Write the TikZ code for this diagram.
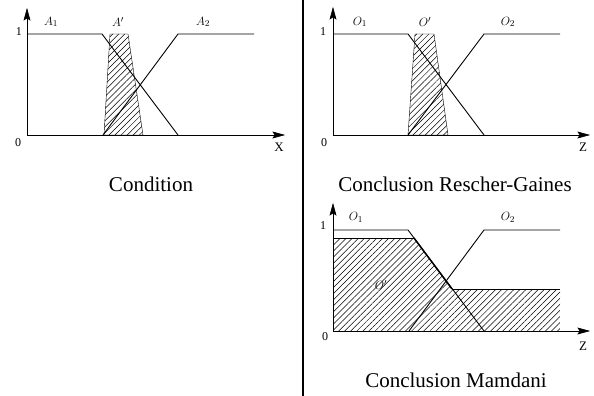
\documentclass[tikz,border=0pt]{standalone}
\usepackage{fontspec}
\setmainfont{Liberation Serif}
\usetikzlibrary{patterns.meta}
\begin{document}
\begin{tikzpicture}[x=1pt,y=-1pt,
  curve/.style={line width=0.9pt},
  axisline/.style={line width=1pt},
  tip/.style={fill=black,draw=black,line width=0.6pt,line join=miter},
  hatch/.style={pattern={Lines[angle=45,distance=4.3pt,line width=0.5pt]}},
  lbl/.style={font=\fontsize{13}{15}\selectfont, inner sep=0pt},
  dig/.style={font=\fontsize{12}{14}\selectfont, inner sep=0pt},
  captext/.style={font=\fontsize{21}{25}\selectfont, inner sep=0pt}]
\useasboundingbox (0,0) rectangle (594,396);

% ---------- Condition ----------
\coordinate (co) at (27,135);
\coordinate (cyt) at (27,9);
\coordinate (cxt) at (284,135);
\draw[axisline] (co) -- (27,17);
\draw[axisline] (co) -- (276,135);
\filldraw[tip] (cyt) -- (24,20) -- (27,18) -- (30,20) -- cycle;
\filldraw[tip] (cxt) -- (273,132) -- (275,135) -- (273,138) -- cycle;
\node[dig] (c1) at (19,32) {1};
\node[dig] (c0) at (18,143) {0};
\node[lbl] (cx) at (279,147) {X};
\draw[hatch] (104,135) -- (110,34) -- (128,34) -- (143,135) -- cycle;
\draw[curve] (27,34) -- (102,34) -- (178,135);
\draw[curve] (103,135) -- (178,34) -- (254,34);
\node[lbl] (a1) at (51,22) {$A_1$};
\node[lbl] (ap) at (118,22) {$A'$};
\node[lbl] (a2) at (203,22) {$A_2$};
\node[captext] (capc) at (151,184) {Condition};

% ---------- divider ----------
\draw[line width=2.8pt] (303,0) -- (303,396);

% ---------- Rescher-Gaines ----------
\coordinate (ro) at (333,135);
\coordinate (ryt) at (333,8);
\coordinate (rxt) at (589,135);
\draw[axisline] (ro) -- (333,16);
\draw[axisline] (ro) -- (581,135);
\filldraw[tip] (ryt) -- (330,19) -- (333,17) -- (336,19) -- cycle;
\filldraw[tip] (rxt) -- (578,132) -- (580,135) -- (578,138) -- cycle;
\node[dig] (r1) at (323,32) {1};
\node[dig] (r0) at (324,143) {0};
\node[lbl] (rz) at (583,147) {Z};
\draw[hatch] (408,135) -- (415,34) -- (434,34) -- (448,135) -- cycle;
\draw[curve] (333,34) -- (408,34) -- (484,135);
\draw[curve] (408,135) -- (484,34) -- (560,34);
\node[lbl] (o1) at (360,22) {$O_1$};
\node[lbl] (op) at (425,22) {$O'$};
\node[lbl] (o2) at (508,22) {$O_2$};
\node[captext] (caprg) at (455,184) {Conclusion Rescher-Gaines};

% ---------- Mamdani ----------
\fill[hatch] (333,331) -- (333,238) -- (414,238) -- (452,289) -- (560,289) -- (560,331) -- cycle;
\draw[curve] (333,238) -- (414,238);
\draw[line width=1.5pt] (414,238) -- (452,289);
\draw[curve] (452,289) -- (560,289);
\coordinate (mo) at (333,331);
\coordinate (myt) at (333,204);
\coordinate (mxt) at (589,331);
\draw[axisline] (mo) -- (333,212);
\draw[axisline] (mo) -- (581,331);
\filldraw[tip] (myt) -- (330,215) -- (333,213) -- (336,215) -- cycle;
\filldraw[tip] (mxt) -- (578,328) -- (580,331) -- (578,334) -- cycle;
\node[dig] (m1) at (323,226) {1};
\node[dig] (m0) at (325,337) {0};
\node[lbl] (mz) at (583,346) {Z};
\draw[curve] (333,230) -- (408,230) -- (484,331);
\draw[curve] (409,331) -- (484,230) -- (560,230);
\node[lbl] (mo1) at (356,217) {$O_1$};
\node[lbl] (mop) at (381,285) {$O'$};
\node[lbl] (mo2) at (508,217) {$O_2$};
\node[captext] (capm) at (456,380) {Conclusion Mamdani};
\end{tikzpicture}
\end{document}
